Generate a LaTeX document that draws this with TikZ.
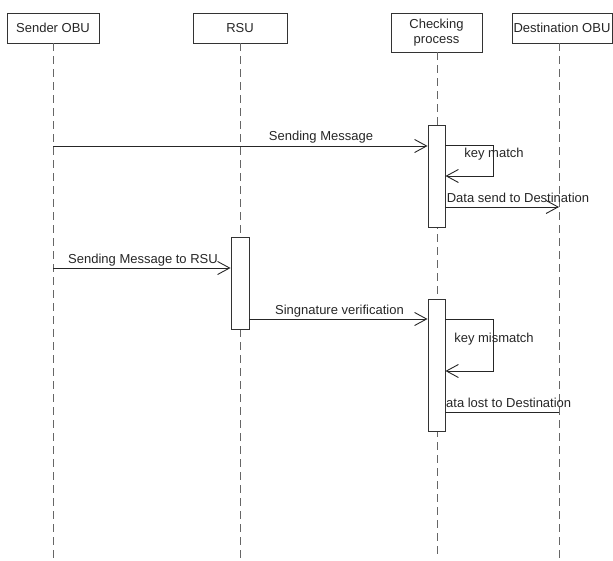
\documentclass[tikz,border=0pt]{standalone}
\usepackage{fontspec}
\setmainfont{Liberation Sans}
\usetikzlibrary{arrows.meta,calc}
\tikzstyle{head}=[draw=black!80, fill=white, line width=.9pt, inner sep=0pt, minimum height=30pt, align=center, text=black!85, font=\fontsize{13}{14.5}\selectfont]
\tikzstyle{life}=[draw=black!60, line width=.9pt, dash pattern=on 8pt off 5pt]
\tikzstyle{act}=[draw=black!80, fill=white, line width=.9pt, inner sep=0pt, minimum width=17pt]
\tikzstyle{msg}=[draw=black!85, line width=.9pt, -{Straight Barb[length=12pt,width=13pt]}]
\tikzstyle{lbl}=[anchor=base, inner sep=0pt, text=black!85, font=\fontsize{13}{15}\selectfont]
\newcommand{\selfloop}[5]{
	\draw[msg] (#1.east |- 0,#2) -- (#3,#2) -- (#3,#4) -- (#1.east |- 0,#4);
	\node[lbl] at (494,{#2+(#4-#2)/2-3}) {#5};
}

\begin{document}
\begin{tikzpicture}[x=1pt,y=-1pt]
	\useasboundingbox (0,0) rectangle (613,561);
	% objects
	\node[head, minimum width=92pt] (sender) at (53,28) {Sender OBU};
	\node[head, minimum width=94pt] (rsu) at (240,28) {RSU};
	\node[head, minimum width=91pt, minimum height=39pt] (check) at (436.5,32.5) {Checking\\process};
	\node[head, minimum width=100pt] (dest) at (562,28) {Destination OBU};
	% lifelines
	\coordinate (send) at (53,558);
	\coordinate (rend) at (240,558);
	\coordinate (cend) at (437,558);
	\coordinate (dend) at (559,558);
	\draw[life] (sender.south) -- (send);
	\draw[life] (rsu.south) -- (rend);
	\draw[life] (check.south -| cend) -- (cend);
	\draw[life] (dest.south -| dend) -- (dend);
	\node[lbl] (lost) at (504,407) {Data lost to Destination};
	% activations
	\node[act, minimum height=102pt] (act1) at (436.5,176) {};
	\node[act, minimum width=18pt, minimum height=92pt] (actr) at (240,283) {};
	\node[act, minimum height=132pt] (act2) at (436.5,365) {};
	% messages
	\coordinate (s1) at (send |- 0,146);
	\coordinate (s2) at (send |- 0,268);
	\coordinate (d1) at (dend |- 0,207);
	\coordinate (d2) at (dend |- 0,412);
	\draw[msg] (s1) -- (act1.west |- s1);
	\node[lbl] at (321,141) {Sending Message};
	\selfloop{act1}{145}{493}{176}{key match}
	\draw[msg] (act1.east |- d1) -- (d1);
	\node[lbl] at (518,203) {Data send to Destination};
	\draw[msg] (s2) -- (actr.west |- s2);
	\node[lbl] at (143,264) {Sending Message to RSU};
	\draw[msg] (actr.east |- 0,319) -- (act2.west |- 0,319);
	\node[lbl] at (339.5,315) {Singnature verification};
	\selfloop{act2}{319}{493}{371}{key mismatch}
	\draw[draw=black!85, line width=.9pt] (act2.east |- d2) -- (d2);
\end{tikzpicture}
\end{document}
